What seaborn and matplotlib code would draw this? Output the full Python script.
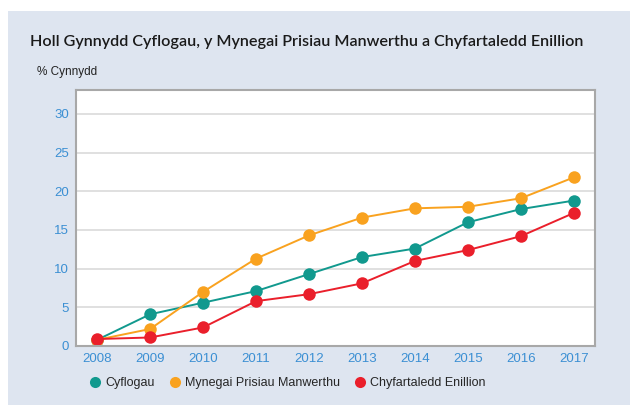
import matplotlib
matplotlib.use('Agg')
import matplotlib.pyplot as plt
import seaborn as sns
import pandas as pd
from matplotlib.patches import Rectangle
from matplotlib.lines import Line2D

years = [2008, 2009, 2010, 2011, 2012, 2013, 2014, 2015, 2016, 2017]
cyflogau = [0.8, 4.1, 5.6, 7.1, 9.3, 11.5, 12.6, 16.0, 17.7, 18.8]
mynegai = [0.8, 2.2, 7.0, 11.3, 14.3, 16.6, 17.8, 18.0, 19.1, 21.8]
enillion = [0.9, 1.1, 2.4, 5.8, 6.7, 8.1, 11.0, 12.4, 14.2, 17.2]

series_names = ['Cyflogau', 'Mynegai Prisiau Manwerthu', 'Chyfartaledd Enillion']
colors = ['#11998e', '#f9a21f', '#ea1f2b']

df = pd.DataFrame({'Blwyddyn': years * 3,
                   'Gwerth': cyflogau + mynegai + enillion,
                   'Cyfres': sum([[n] * len(years) for n in series_names], [])})

sns.set_style('white')
plt.rcParams['font.family'] = ['Liberation Sans', 'DejaVu Sans']

fig = plt.figure(figsize=(6.3, 4.05), dpi=100)
fig.patch.set_facecolor('white')
fig.patches.append(Rectangle((8 / 630, 0), 1, 1 - 11 / 405, transform=fig.transFigure,
                             facecolor='#dee5f0', edgecolor='none', zorder=-5))

ax = fig.add_axes([76 / 630, 1 - 346 / 405, 519 / 630, 256 / 405])
ax.set_facecolor('white')

# draw order: teal, orange, red (red on top)
sns.lineplot(data=df, x='Blwyddyn', y='Gwerth', hue='Cyfres', hue_order=series_names,
             palette=colors, marker='o', markersize=9, markeredgewidth=0,
             linewidth=1.4, legend=False, ax=ax)

ax.set_xlim(2007.6, 2017.4)
ax.set_ylim(0, 33.1)
ax.set_yticks([0, 5, 10, 15, 20, 25, 30])
ax.set_xticks(years)
ax.set_xticklabels([str(y) for y in years])
ax.grid(axis='y', color='#dadada', linewidth=1.2)
ax.set_axisbelow(True)
for s in ax.spines.values():
    s.set_color('#a8a8a8')
    s.set_linewidth(1.5)
ax.tick_params(axis='both', length=0, labelsize=9.5, colors='#3b8fd3', pad=5)
ax.set_xlabel('')
ax.set_ylabel('')

fig.text(30 / 630, 1 - 42 / 405, 'Holl Gynnydd Cyflogau, y Mynegai Prisiau Manwerthu a Chyfartaledd Enillion',
         fontsize=11.6, color='#1a1a1a', va='center', ha='left', fontweight='semibold',
         family=['Lato', 'DejaVu Sans'])
fig.text(37 / 630, 1 - 72 / 405, '% Cynnydd', fontsize=8.5, color='#222222', va='center', ha='left')

handles = [Line2D([], [], linestyle='none', marker='o', markersize=8, markeredgewidth=0, color=c)
           for c in colors]
fig.legend(handles, series_names, loc='center left', bbox_to_anchor=(89 / 630, 1 - 383 / 405),
           ncol=3, frameon=False, fontsize=9, handletextpad=0.3, columnspacing=1.1,
           borderaxespad=0, handlelength=1.0, borderpad=0)

fig.savefig('out.png', dpi=100)
